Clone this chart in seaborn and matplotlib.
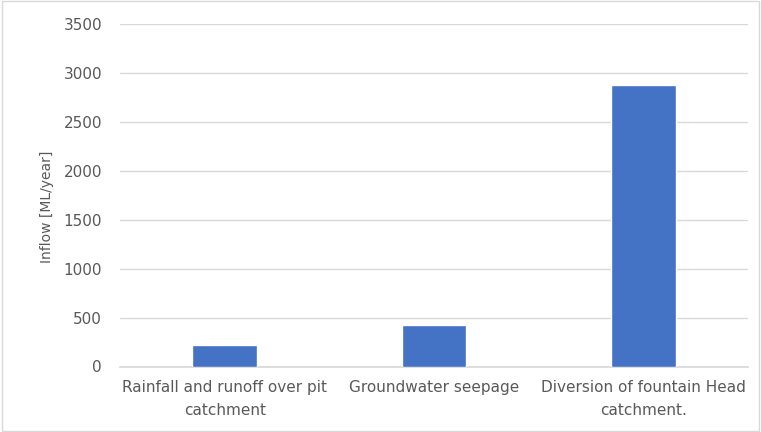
import matplotlib
matplotlib.use("Agg")
import matplotlib.pyplot as plt
import seaborn as sns
import pandas as pd

categories = [
    "Rainfall and runoff over pit\ncatchment",
    "Groundwater seepage",
    "Diversion of fountain Head\ncatchment.",
]
inflow = [220, 425, 2880]
y_ticks = [0, 500, 1000, 1500, 2000, 2500, 3000, 3500]

df = pd.DataFrame({"source": categories, "inflow": inflow})

sns.set_theme(style="white")
plt.rcParams["font.family"] = ["DejaVu Sans"]

text_color = "#595959"
grid_color = "#d9d9d9"
fs = 11

fig = plt.figure(figsize=(7.61, 4.32), dpi=100)
ax = fig.add_axes([120 / 761, 1 - 366.5 / 432, (748 - 120) / 761, (366.5 - 24) / 432])

sns.barplot(data=df, x="source", y="inflow", color="#4472C4", width=0.31,
            saturation=1, ax=ax, zorder=3)

ax.set_ylim(0, 3500)
ax.set_yticks(y_ticks)
ax.set_yticklabels([str(t) for t in y_ticks], fontsize=fs, color=text_color)
ax.set_xlim(-0.5, 2.5)
ax.set_xticks(range(len(categories)))
ax.set_xticklabels(categories, fontsize=fs, color=text_color, linespacing=1.6)
ax.tick_params(axis="x", length=0, pad=10)
ax.tick_params(axis="y", length=0, pad=13)
ax.grid(axis="y", color=grid_color, linewidth=1, zorder=0)
for side in ["top", "right", "left"]:
    ax.spines[side].set_visible(False)
ax.spines["bottom"].set_color(grid_color)
ax.set_xlabel("")
ax.set_ylabel("Inflow [ML/year]", fontsize=10, color=text_color)
ax.yaxis.set_label_coords(-0.105, 0.466)

# thin frame around the whole chart area
fig.patches.append(plt.Rectangle((0.002, 0.003), 0.996, 0.994, transform=fig.transFigure,
                                 fill=False, edgecolor="#d9d9d9", linewidth=1))

fig.savefig("out.png", dpi=100)
